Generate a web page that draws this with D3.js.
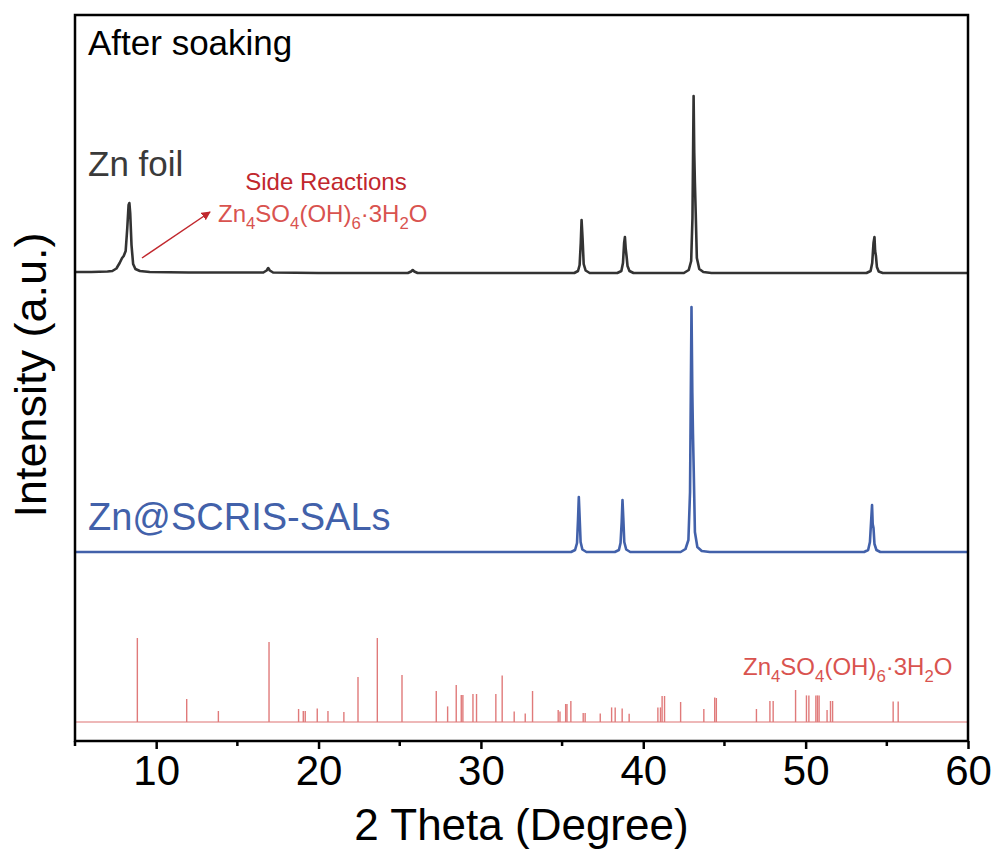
<!DOCTYPE html>
<html>
<head>
<meta charset="utf-8">
<script src="https://d3js.org/d3.v7.min.js"></script>
<style>
  body { margin: 0; background: #fff; }
  svg { display: block; font-family: "Liberation Sans", Arial, sans-serif; }
</style>
</head>
<body>
<svg width="997" height="852"></svg>
<script>
// XRD patterns, [2theta, intensity above own baseline]
const znFoil = [
  [5, 1], [6, 1], [7, 1.5], [7.3, 2], [7.55, 4.5], [7.75, 10], [7.9, 15], [8.0, 17], [8.12, 22],
  [8.22, 45], [8.3, 68], [8.35, 70], [8.4, 60], [8.48, 28], [8.58, 9], [8.72, 4], [9.0, 2], [9.6, 1],
  [12, 0.5], [16.6, 0.5], [16.8, 2.5], [16.9, 5], [17.0, 2.5], [17.2, 0.5], [20, 0],
  [25.5, 0], [25.7, 1.5], [25.8, 3], [25.9, 1.5], [26.1, 0],
  [35.75, 0], [35.98, 2], [36.08, 8], [36.15, 30], [36.2, 53], [36.26, 35], [36.33, 9], [36.45, 2.5], [36.7, 0],
  [38.4, 0], [38.65, 2], [38.75, 10], [38.82, 30], [38.87, 36], [38.92, 24], [38.97, 17], [39.03, 7], [39.15, 2], [39.4, 0],
  [42.5, 0], [42.8, 3], [42.95, 12], [43.03, 55], [43.1, 177], [43.14, 120], [43.18, 90], [43.23, 60], [43.3, 15],
  [43.45, 4], [43.7, 1], [44.2, 0],
  [53.75, 0], [54.0, 2], [54.1, 10], [54.18, 30], [54.24, 36], [54.28, 22], [54.33, 17], [54.39, 6], [54.5, 1.5], [54.75, 0],
  [60, 0]
];

const znSal = [
  [5, 0], [20, 0], [35.55, 0], [35.8, 2], [35.92, 9], [35.98, 32], [36.03, 55], [36.08, 35], [36.14, 10], [36.25, 2.5], [36.5, 0],
  [38.25, 0], [38.5, 2], [38.6, 9], [38.67, 30], [38.72, 52], [38.77, 34], [38.83, 10], [38.95, 2.5], [39.2, 0],
  [42.3, 0], [42.6, 3], [42.78, 12], [42.88, 60], [42.97, 245], [43.02, 160], [43.06, 119], [43.11, 80], [43.18, 20],
  [43.33, 5], [43.6, 1], [44.1, 0],
  [53.6, 0], [53.85, 2], [53.96, 10], [54.03, 30], [54.09, 47], [54.13, 28], [54.18, 24], [54.24, 8], [54.36, 2], [54.6, 0],
  [60, 0]
];

// reference card Zn4SO4(OH)6·3H2O
const refPos = [8.84, 11.88, 13.83, 16.95, 18.77, 19.06, 19.18, 19.92, 20.58, 21.56, 22.43, 23.62,
  25.14, 27.25, 27.95, 28.48, 28.79, 28.89, 29.51, 29.73, 30.92, 31.31, 32.05, 32.73, 33.18,
  34.76, 34.87, 35.22, 35.30, 35.54, 36.30, 36.42, 37.35, 38.05, 38.27, 38.70, 39.13,
  40.90, 41.06, 41.16, 41.31, 42.30, 43.73, 44.40, 44.50, 46.97, 47.80, 48.00, 49.38,
  50.05, 50.20, 50.63, 50.73, 50.83, 51.32, 51.53, 51.66, 55.39, 55.70];
const refInt = [84, 23, 11, 80, 13, 11, 11, 13.6, 11, 10, 45, 84,
  47, 31, 15.6, 37, 27, 27, 28, 28, 28, 46.6, 10.6, 8.6, 31,
  12, 10.6, 18, 18, 21, 9, 9, 8.6, 14.6, 14.6, 13.6, 8.3,
  14.6, 14.6, 26, 26, 20, 13, 24.6, 24, 13, 21, 21, 32,
  26.6, 26.6, 26.6, 26.6, 26.6, 12, 21, 21, 20.6, 20.6];

// vertical stacking offsets
const offsets = { foil: 468, sal: 189, ref: 19 };

const xTicks = [10, 20, 30, 40, 50, 60];
const xMinor = [5, 15, 25, 35, 45, 55];

const formula = [["Zn", 0], ["4", 1], ["SO", 0], ["4", 1], ["(OH)", 0], ["6", 1], ["·3H", 0], ["2", 1], ["O", 0]];

const svg = d3.select('svg');
const width = +svg.attr('width');
const height = +svg.attr('height');

const margin = { top: 15, right: 29, bottom: 111, left: 75 };
const innerWidth = width - margin.left - margin.right;
const innerHeight = height - margin.top - margin.bottom;

const xScale = d3.scaleLinear().domain([5, 60]).range([0, innerWidth]);
const yScale = d3.scaleLinear().domain([0, 726]).range([innerHeight, 0]);

const g = svg.append('g').attr('transform', `translate(${margin.left}, ${margin.top})`);

const line = off => d3.line()
  .x(d => xScale(d[0]))
  .y(d => yScale(d[1] + off));

// reference sticks
g.append('line')
  .attr('x1', 0).attr('x2', innerWidth)
  .attr('y1', yScale(offsets.ref)).attr('y2', yScale(offsets.ref))
  .attr('stroke', '#e8a0a0').attr('stroke-width', 1.5);

g.selectAll('.stick').data(refPos)
  .enter().append('line')
    .attr('class', 'stick')
    .attr('x1', d => xScale(d)).attr('x2', d => xScale(d))
    .attr('y1', yScale(offsets.ref))
    .attr('y2', (d, i) => yScale(offsets.ref + refInt[i]))
    .attr('stroke', '#e07a7a').attr('stroke-width', 1.4);

// traces
g.append('path').datum(znSal)
  .attr('d', line(offsets.sal))
  .attr('fill', 'none').attr('stroke', '#4261aa').attr('stroke-width', 2.6)
  .attr('stroke-linejoin', 'round');

g.append('path').datum(znFoil)
  .attr('d', line(offsets.foil))
  .attr('fill', 'none').attr('stroke', '#333333').attr('stroke-width', 2.6)
  .attr('stroke-linejoin', 'round');

// frame
g.append('rect')
  .attr('width', innerWidth).attr('height', innerHeight)
  .attr('fill', 'none').attr('stroke', '#000').attr('stroke-width', 2.5);

// x axis
const xAxis = d3.axisBottom(xScale).tickValues(xTicks).tickSize(8).tickPadding(6).tickFormat(d3.format('d'));
const xAxisG = g.append('g').attr('transform', `translate(0, ${innerHeight})`).call(xAxis);
xAxisG.select('.domain').remove();
xAxisG.selectAll('line').attr('stroke-width', 2.5);
xAxisG.selectAll('text').attr('font-size', 42).attr('fill', '#000');

g.selectAll('.minor').data(xMinor)
  .enter().append('line')
    .attr('class', 'minor')
    .attr('x1', d => xScale(d)).attr('x2', d => xScale(d))
    .attr('y1', innerHeight).attr('y2', innerHeight + 5)
    .attr('stroke', '#000').attr('stroke-width', 2.5);

svg.append('text')
  .attr('x', margin.left + innerWidth / 2).attr('y', 840)
  .attr('text-anchor', 'middle').attr('font-size', 44)
  .text('2 Theta (Degree)');

svg.append('text')
  .attr('transform', 'translate(46, 375) rotate(-90)')
  .attr('text-anchor', 'middle').attr('font-size', 45)
  .text('Intensity (a.u.)');

// labels
svg.append('text').attr('x', 88).attr('y', 55).attr('font-size', 35).text('After soaking');
svg.append('text').attr('x', 88).attr('y', 176).attr('font-size', 35).attr('fill', '#3a3a3a').text('Zn foil');
svg.append('text').attr('x', 88).attr('y', 530).attr('font-size', 38).attr('fill', '#4261aa').text('Zn@SCRIS-SALs');

svg.append('text').attr('x', 326).attr('y', 190).attr('text-anchor', 'middle')
  .attr('font-size', 24).attr('fill', '#c1272d').text('Side Reactions');

const addFormula = (x, y, size, color) => {
  const t = svg.append('text').attr('x', x).attr('y', y).attr('font-size', size).attr('fill', color);
  let shifted = false;
  formula.forEach(([s, sub]) => {
    const span = t.append('tspan').text(s);
    if (sub && !shifted) { span.attr('dy', size * 0.28).attr('font-size', size * 0.7); shifted = true; }
    else if (!sub && shifted) { span.attr('dy', -size * 0.28); shifted = false; }
  });
};
addFormula(218, 222, 24, '#d9534f');
addFormula(743, 675, 24, '#d9534f');

// arrow
svg.append('defs').append('marker')
  .attr('id', 'arrow').attr('viewBox', '0 0 10 10').attr('refX', 9).attr('refY', 5)
  .attr('markerWidth', 9).attr('markerHeight', 9).attr('orient', 'auto').attr('markerUnits', 'userSpaceOnUse')
  .append('path').attr('d', 'M0,0 L10,5 L0,10 Z').attr('fill', '#c1272d');
svg.append('line')
  .attr('x1', 142).attr('y1', 258).attr('x2', 210).attr('y2', 212)
  .attr('stroke', '#c1272d').attr('stroke-width', 1.5).attr('marker-end', 'url(#arrow)');
</script>
</body>
</html>
